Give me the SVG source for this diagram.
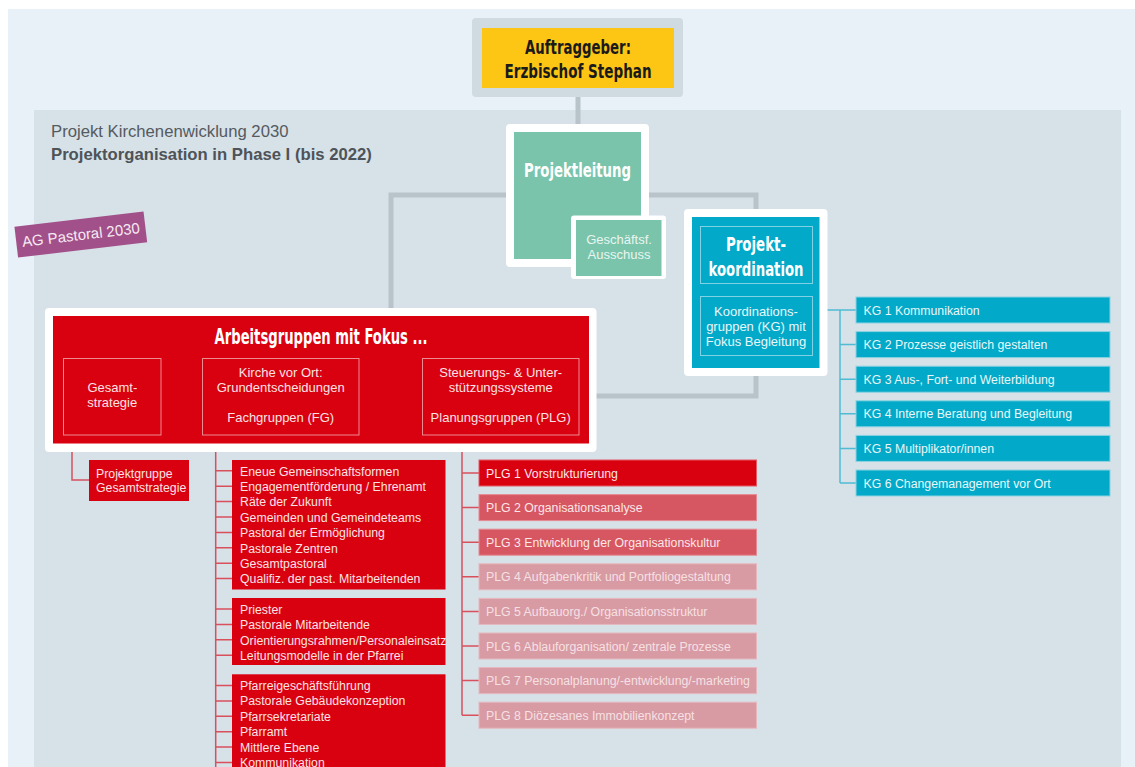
<svg xmlns="http://www.w3.org/2000/svg" width="1135" height="767" viewBox="0 0 1135 767">
  <style>
    .ttl { font-family: "Liberation Sans Narrow", "DejaVu Sans Condensed", "Liberation Sans", sans-serif; font-weight: bold; }
    .txt { font-family: "Liberation Sans", Arial, sans-serif; }
    .frame { fill: #ffffff; }
    .red { fill: #D9000F; }
    .sub { fill: none; stroke: #EF8A92; stroke-width: 1; }
    .subt { fill: #FBE3E5; font-size: 13px; text-anchor: middle; }
    .list { fill: #FBE3E5; font-size: 12.3px; }
    .kg { fill: #02A9C8; stroke: #8BD3E2; stroke-width: 1; }
    .kgt { fill: #E8F7FA; font-size: 12.3px; }
    .plg1 { fill: #D9000F; stroke: #E55A64; stroke-width: 1; }
    .plg2 { fill: #D65661; stroke: #E58A92; stroke-width: 1; }
    .plg3 { fill: #D89AA3; stroke: #E6B8BE; stroke-width: 1; }
    .plgt { fill: #FBE6E8; font-size: 12.3px; }
    .plgt3 { fill: #F6E0E3; font-size: 12.3px; }
    .grey { fill: none; stroke: #B8C3CA; stroke-width: 5; }
    .rline { fill: none; stroke: #D9505C; stroke-width: 1.5; }
    .bline { fill: none; stroke: #4FBCD4; stroke-width: 1.5; }
  </style>

  <!-- page background -->
  <rect x="0" y="0" width="1135" height="767" fill="#ffffff"/>
  <rect x="8" y="9" width="1127" height="770" fill="#E9F1F8"/>
  <rect x="34" y="110" width="1087" height="670" fill="#D6E1E8"/>

  <!-- heading -->
  <text class="txt" x="51" y="137" font-size="16.7" fill="#555A5E">Projekt Kirchenenwicklung 2030</text>
  <text class="txt" x="51" y="160" font-size="16.7" font-weight="bold" fill="#4E5358">Projektorganisation in Phase I (bis 2022)</text>

  <!-- connectors -->
  <g id="connectors">
    <path class="grey" d="M578,97 V124"/>
    <path class="grey" d="M506,195 H391 V308"/>
    <path class="grey" d="M649,195 H756 V209"/>
    <path class="grey" d="M756,376 V396 H596"/>
    <!-- coordination groups -->
    <path class="bline" d="M819,310 H856 M840,310 V483 M840,344.6 H856 M840,379.2 H856 M840,413.8 H856 M840,448.4 H856 M840,483 H856"/>
    <!-- project group overall strategy -->
    <path class="rline" d="M72,444 V480 H89"/>
    <!-- Fachgruppen -->
    <path class="rline" d="M215.7,444 V770
      M215.7,470.8 H232 M215.7,486.2 H232 M215.7,501.6 H232 M215.7,517 H232
      M215.7,532.4 H232 M215.7,547.8 H232 M215.7,563.2 H232 M215.7,578.6 H232
      M215.7,609 H232 M215.7,624.4 H232 M215.7,639.8 H232 M215.7,655.2 H232
      M215.7,685.5 H232 M215.7,700.9 H232 M215.7,716.3 H232 M215.7,731.7 H232
      M215.7,747.1 H232 M215.7,762.5 H232"/>
    <!-- Planungsgruppen -->
    <path class="rline" d="M462,444 V715.2
      M462,473 H479 M462,507.6 H479 M462,542.2 H479 M462,576.8 H479
      M462,611.4 H479 M462,646 H479 M462,680.6 H479 M462,715.2 H479"/>
  </g>

  <!-- client -->
  <g id="auftraggeber">
    <rect x="472" y="18" width="211" height="79" rx="4" fill="#D0DAE1"/>
    <rect x="482" y="28" width="192" height="60" fill="#FDC514"/>
    <text class="ttl" x="578" y="54" font-size="20" text-anchor="middle" fill="#1A1A1A" textLength="106" lengthAdjust="spacingAndGlyphs">Auftraggeber:</text>
    <text class="ttl" x="578" y="78" font-size="20" text-anchor="middle" fill="#1A1A1A" textLength="147" lengthAdjust="spacingAndGlyphs">Erzbischof Stephan</text>
  </g>

  <!-- project lead -->
  <g id="projektleitung">
    <rect x="506" y="124" width="143" height="143" rx="4" class="frame"/>
    <rect x="514" y="132" width="127" height="127" fill="#79C4AB"/>
    <text class="ttl" x="577.5" y="177" font-size="20" text-anchor="middle" fill="#ffffff" textLength="107" lengthAdjust="spacingAndGlyphs">Projektleitung</text>
  </g>

  <g id="ausschuss">
    <rect x="571" y="215.5" width="95" height="63.5" rx="3" class="frame"/>
    <rect x="576" y="220" width="85.5" height="56" fill="#79C4AB"/>
    <text class="txt" x="619" y="244" font-size="13" text-anchor="middle" fill="#E9F5F0">Geschäftsf.</text>
    <text class="txt" x="619" y="258.5" font-size="13" text-anchor="middle" fill="#E9F5F0">Ausschuss</text>
  </g>

  <!-- coordination -->
  <g id="projektkoordination">
    <rect x="684" y="209" width="143.5" height="167" rx="4" class="frame"/>
    <rect x="692" y="217" width="127.5" height="151" fill="#02A9C8"/>
    <rect x="700.5" y="226.5" width="112" height="57" fill="none" stroke="#7ED2E3" stroke-width="1"/>
    <text class="ttl" x="756" y="251" font-size="20" text-anchor="middle" fill="#ffffff" textLength="60" lengthAdjust="spacingAndGlyphs">Projekt-</text>
    <text class="ttl" x="756" y="276" font-size="20" text-anchor="middle" fill="#ffffff" textLength="95" lengthAdjust="spacingAndGlyphs">koordination</text>
    <rect x="700.5" y="296.5" width="112" height="59" fill="none" stroke="#7ED2E3" stroke-width="1"/>
    <text class="txt" x="756" y="315.5" font-size="13" text-anchor="middle" fill="#E8F7FA">Koordinations-</text>
    <text class="txt" x="756" y="330.5" font-size="13" text-anchor="middle" fill="#E8F7FA">gruppen (KG) mit</text>
    <text class="txt" x="756" y="345.5" font-size="13" text-anchor="middle" fill="#E8F7FA">Fokus Begleitung</text>
  </g>

  <!-- coordination groups -->
  <g id="kg1"><rect class="kg" x="856" y="297" width="254" height="26"/><text class="txt kgt" x="863.5" y="314.5">KG 1 Kommunikation</text></g>
  <g id="kg2"><rect class="kg" x="856" y="331.6" width="254" height="26"/><text class="txt kgt" x="863.5" y="349.1">KG 2 Prozesse geistlich gestalten</text></g>
  <g id="kg3"><rect class="kg" x="856" y="366.2" width="254" height="26"/><text class="txt kgt" x="863.5" y="383.7">KG 3 Aus-, Fort- und Weiterbildung</text></g>
  <g id="kg4"><rect class="kg" x="856" y="400.8" width="254" height="26"/><text class="txt kgt" x="863.5" y="418.3">KG 4 Interne Beratung und Begleitung</text></g>
  <g id="kg5"><rect class="kg" x="856" y="435.4" width="254" height="26"/><text class="txt kgt" x="863.5" y="452.9">KG 5 Multiplikator/innen</text></g>
  <g id="kg6"><rect class="kg" x="856" y="470" width="254" height="26"/><text class="txt kgt" x="863.5" y="487.5">KG 6 Changemanagement vor Ort</text></g>

  <!-- working group tag -->
  <g id="ag-pastoral" transform="translate(80.8,234.5) rotate(-6.8)">
    <rect x="-65" y="-15.5" width="130" height="31" fill="#A1508A"/>
    <text class="txt" x="0" y="5.5" font-size="15" text-anchor="middle" fill="#F6E9F2">AG Pastoral 2030</text>
  </g>

  <!-- working groups -->
  <g id="arbeitsgruppen">
    <rect x="45" y="308" width="551.5" height="144" rx="4" class="frame"/>
    <rect class="red" x="53" y="316" width="536" height="127.5"/>
    <text class="ttl" x="321" y="344" font-size="21" text-anchor="middle" fill="#ffffff" textLength="213" lengthAdjust="spacingAndGlyphs">Arbeitsgruppen mit Fokus ...</text>
    <rect class="sub" x="63.5" y="358.5" width="97.5" height="76.5"/>
    <text class="txt subt" x="112.3" y="392">Gesamt-</text>
    <text class="txt subt" x="112.3" y="407">strategie</text>
    <rect class="sub" x="202.5" y="358.5" width="156.5" height="76.5"/>
    <text class="txt subt" x="280.7" y="377">Kirche vor Ort:</text>
    <text class="txt subt" x="280.7" y="392">Grundentscheidungen</text>
    <text class="txt subt" x="280.7" y="422">Fachgruppen (FG)</text>
    <rect class="sub" x="422.5" y="358.5" width="156.5" height="76.5"/>
    <text class="txt subt" x="500.7" y="377">Steuerungs- &amp; Unter-</text>
    <text class="txt subt" x="500.7" y="392">stützungssysteme</text>
    <text class="txt subt" x="500.7" y="422">Planungsgruppen (PLG)</text>
  </g>

  <g id="projektgruppe">
    <rect class="red" x="89" y="460" width="100" height="41"/>
    <text class="txt list" x="96" y="477.5" font-size="12.5">Projektgruppe</text>
    <text class="txt list" x="96" y="491.5" font-size="12.5">Gesamtstrategie</text>
  </g>

  <!-- subject groups -->
  <g id="fg1">
    <rect class="red" x="232" y="460" width="213.5" height="129.5"/>
    <text class="txt list" x="240" y="475.5">Eneue Gemeinschaftsformen</text>
    <text class="txt list" x="240" y="490.9">Engagementförderung / Ehrenamt</text>
    <text class="txt list" x="240" y="506.3">Räte der Zukunft</text>
    <text class="txt list" x="240" y="521.7">Gemeinden und Gemeindeteams</text>
    <text class="txt list" x="240" y="537.1">Pastoral der Ermöglichung</text>
    <text class="txt list" x="240" y="552.5">Pastorale Zentren</text>
    <text class="txt list" x="240" y="567.9">Gesamtpastoral</text>
    <text class="txt list" x="240" y="583.3">Qualifiz. der past. Mitarbeitenden</text>
  </g>
  <g id="fg2">
    <rect class="red" x="232" y="598" width="213.5" height="67"/>
    <text class="txt list" x="240" y="613.7">Priester</text>
    <text class="txt list" x="240" y="629.1">Pastorale Mitarbeitende</text>
    <text class="txt list" x="240" y="644.5">Orientierungsrahmen/Personaleinsatz</text>
    <text class="txt list" x="240" y="659.9">Leitungsmodelle in der Pfarrei</text>
  </g>
  <g id="fg3">
    <rect class="red" x="232" y="674.3" width="213.5" height="110"/>
    <text class="txt list" x="240" y="690">Pfarreigeschäftsführung</text>
    <text class="txt list" x="240" y="705.4">Pastorale Gebäudekonzeption</text>
    <text class="txt list" x="240" y="720.8">Pfarrsekretariate</text>
    <text class="txt list" x="240" y="736.2">Pfarramt</text>
    <text class="txt list" x="240" y="751.6">Mittlere Ebene</text>
    <text class="txt list" x="240" y="767">Kommunikation</text>
  </g>

  <!-- planning groups -->
  <g id="plg1"><rect class="plg1" x="479" y="460" width="277.5" height="26"/><text class="txt plgt" x="486" y="477.5">PLG 1 Vorstrukturierung</text></g>
  <g id="plg2"><rect class="plg2" x="479" y="494.6" width="277.5" height="26"/><text class="txt plgt" x="486" y="512.1">PLG 2 Organisationsanalyse</text></g>
  <g id="plg3"><rect class="plg2" x="479" y="529.2" width="277.5" height="26"/><text class="txt plgt" x="486" y="546.7">PLG 3 Entwicklung der Organisationskultur</text></g>
  <g id="plg4"><rect class="plg3" x="479" y="563.8" width="277.5" height="26"/><text class="txt plgt3" x="486" y="581.3">PLG 4 Aufgabenkritik und Portfoliogestaltung</text></g>
  <g id="plg5"><rect class="plg3" x="479" y="598.4" width="277.5" height="26"/><text class="txt plgt3" x="486" y="615.9">PLG 5 Aufbauorg./ Organisationsstruktur</text></g>
  <g id="plg6"><rect class="plg3" x="479" y="633" width="277.5" height="26"/><text class="txt plgt3" x="486" y="650.5">PLG 6 Ablauforganisation/ zentrale Prozesse</text></g>
  <g id="plg7"><rect class="plg3" x="479" y="667.6" width="277.5" height="26"/><text class="txt plgt3" x="486" y="685.1">PLG 7 Personalplanung/-entwicklung/-marketing</text></g>
  <g id="plg8"><rect class="plg3" x="479" y="702.2" width="277.5" height="26"/><text class="txt plgt3" x="486" y="719.7">PLG 8 Diözesanes Immobilienkonzept</text></g>
</svg>
